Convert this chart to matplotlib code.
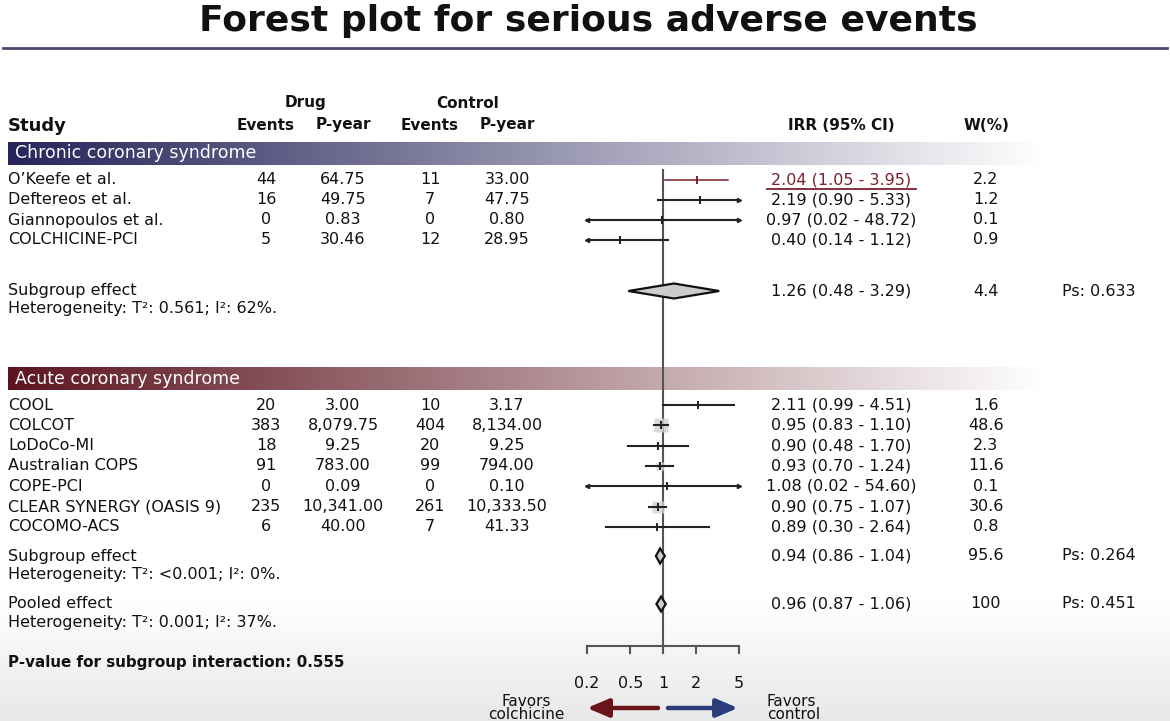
import numpy as np
import matplotlib
matplotlib.use('Agg')
import matplotlib.pyplot as plt
from matplotlib.colors import to_rgb

plt.rcParams['font.family'] = ['DejaVu Sans']

# ---- data ----
chronic_studies = ['O\u2019Keefe et al.', 'Deftereos et al.', 'Giannopoulos et al.', 'COLCHICINE-PCI']
chronic_drug_events = [44, 16, 0, 5]
chronic_drug_pyear = [64.75, 49.75, 0.83, 30.46]
chronic_ctrl_events = [11, 7, 0, 12]
chronic_ctrl_pyear = [33.00, 47.75, 0.80, 28.95]
chronic_irr = [2.04, 2.19, 0.97, 0.40]
chronic_lo = [1.05, 0.90, 0.02, 0.14]
chronic_hi = [3.95, 5.33, 48.72, 1.12]
chronic_w = [2.2, 1.2, 0.1, 0.9]

acute_studies = ['COOL', 'COLCOT', 'LoDoCo-MI', 'Australian COPS', 'COPE-PCI',
                 'CLEAR SYNERGY (OASIS 9)', 'COCOMO-ACS']
acute_drug_events = [20, 383, 18, 91, 0, 235, 6]
acute_drug_pyear = [3.00, 8079.75, 9.25, 783.00, 0.09, 10341.00, 40.00]
acute_ctrl_events = [10, 404, 20, 99, 0, 261, 7]
acute_ctrl_pyear = [3.17, 8134.00, 9.25, 794.00, 0.10, 10333.50, 41.33]
acute_irr = [2.11, 0.95, 0.90, 0.93, 1.08, 0.90, 0.89]
acute_lo = [0.99, 0.83, 0.48, 0.70, 0.02, 0.75, 0.30]
acute_hi = [4.51, 1.10, 1.70, 1.24, 54.60, 1.07, 2.64]
acute_w = [1.6, 48.6, 2.3, 11.6, 0.1, 30.6, 0.8]

summary_labels = ['Subgroup effect', 'Subgroup effect', 'Pooled effect']
summary_het = ['Heterogeneity: T\u00b2: 0.561; I\u00b2: 62%.',
               'Heterogeneity: T\u00b2: <0.001; I\u00b2: 0%.',
               'Heterogeneity: T\u00b2: 0.001; I\u00b2: 37%.']
summary_irr = [1.26, 0.94, 0.96]
summary_lo = [0.48, 0.86, 0.87]
summary_hi = [3.29, 1.04, 1.06]
summary_w = [4.4, 95.6, 100]
summary_ps = [0.633, 0.264, 0.451]

axis_ticks = [0.2, 0.5, 1, 2, 5]
p_interaction = 0.555

# ---- layout (pixel coordinates, y down) ----
W, H = 1170, 721
X_EV_D, X_PY_D, X_EV_C, X_PY_C = 266, 343, 430, 507
X_IRR, X_W, X_PS = 841, 986, 1099
chronic_rows = [180 + 20 * i for i in range(4)]
acute_rows = [405 + 20.3 * i for i in range(7)]
summary_rows = [291, 556, 604]
AXIS_Y = 646
XMIN, XMAX = 0.2, 5
FS = 11.5

fig = plt.figure(figsize=(W / 100, H / 100), dpi=100)
ax0 = fig.add_axes([0, 0, 1, 1])
ax0.set_xlim(0, W)
ax0.set_ylim(H, 0)
ax0.axis('off')

# light grey shading at the bottom
bg = np.ones((H, 1, 3))
ramp = np.clip((np.arange(H) - 600) / (H - 600), 0, 1)
bg[:, 0, :] = (1 - 0.09 * ramp)[:, None]
ax0.imshow(bg, extent=(0, W, H, 0), aspect='auto', zorder=0)

# title and rule
ax0.text(588, 21, 'Forest plot for serious adverse events', ha='center', va='center',
         fontsize=26, fontweight='bold', color='#111111')
ax0.plot([3, 1167], [48, 48], color='#4b4a6e', lw=2)

# headers
hkw = dict(fontsize=11, fontweight='bold', color='#111111', va='center')
ax0.text(305, 103, 'Drug', ha='center', **hkw)
ax0.text(468, 103, 'Control', ha='center', **hkw)
ax0.text(8, 126, 'Study', ha='left', fontsize=13, fontweight='bold', va='center', color='#111111')
for x, t in [(X_EV_D, 'Events'), (X_PY_D, 'P-year'), (X_EV_C, 'Events'), (X_PY_C, 'P-year'),
             (X_IRR, 'IRR (95% CI)'), (X_W, 'W(%)')]:
    ax0.text(x, 125, t, ha='center', **hkw)


def gradient_bar(y0, y1, c_left, label):
    n = 400
    t = np.linspace(0, 1, n)[None, :, None]
    cl = np.array(to_rgb(c_left))[None, None, :]
    img = cl * (1 - t) + np.ones(3)[None, None, :] * t
    ax0.imshow(img, extent=(8, 1045, y1, y0), aspect='auto', zorder=1)
    ax0.text(15, (y0 + y1) / 2, label, color='white', fontsize=12.5, va='center', ha='left',
             zorder=2)


gradient_bar(142, 165, '#26245a', 'Chronic coronary syndrome')
gradient_bar(367, 390, '#5c1520', 'Acute coronary syndrome')

tkw = dict(fontsize=FS, va='center', color='#111111')
red = '#7d1f2c'


def study_rows(rows, names, de, dp, ce, cp, irr, lo, hi, w, first_red=False):
    for i, (y, n, a, b, c, d, e, l, h, ww) in enumerate(zip(rows, names, de, dp, ce, cp,
                                                           irr, lo, hi, w)):
        ax0.text(8, y, n, ha='left', **tkw)
        ax0.text(X_EV_D, y, f'{a}', ha='center', **tkw)
        ax0.text(X_PY_D, y, f'{b:,.2f}', ha='center', **tkw)
        ax0.text(X_EV_C, y, f'{c}', ha='center', **tkw)
        ax0.text(X_PY_C, y, f'{d:,.2f}', ha='center', **tkw)
        col = red if (first_red and i == 0) else '#111111'
        ax0.text(X_IRR, y, f'{e:.2f} ({l:.2f} - {h:.2f})', ha='center', fontsize=FS,
                 va='center', color=col)
        ax0.text(X_W, y, f'{ww:g}', ha='center', **tkw)


study_rows(chronic_rows, chronic_studies, chronic_drug_events, chronic_drug_pyear,
           chronic_ctrl_events, chronic_ctrl_pyear, chronic_irr, chronic_lo, chronic_hi,
           chronic_w, first_red=True)
study_rows(acute_rows, acute_studies, acute_drug_events, acute_drug_pyear,
           acute_ctrl_events, acute_ctrl_pyear, acute_irr, acute_lo, acute_hi, acute_w)

# underline of the highlighted O'Keefe estimate
ax0.plot([767, 916], [189, 189], color=red, lw=1.3)

for y, lab, het, e, l, h, ww, ps in zip(summary_rows, summary_labels, summary_het, summary_irr,
                                          summary_lo, summary_hi, summary_w, summary_ps):
    ax0.text(8, y, lab, ha='left', **tkw)
    ax0.text(8, y + 18, het, ha='left', **tkw)
    ax0.text(X_IRR, y, f'{e:.2f} ({l:.2f} - {h:.2f})', ha='center', **tkw)
    ax0.text(X_W, y, f'{ww:g}', ha='center', **tkw)
    ax0.text(X_PS, y, f'Ps: {ps:.3f}', ha='center', **tkw)

ax0.text(8, 663, f'P-value for subgroup interaction: {p_interaction:.3f}', ha='left',
         fontsize=10.9, fontweight='bold', va='center', color='#111111')

# ---- forest panel ----
axf = fig.add_axes([587 / W, 0, (739 - 587) / W, 1])
axf.set_xscale('log')
axf.set_xlim(XMIN, XMAX)
axf.set_ylim(H, 0)
axf.axis('off')
axf.patch.set_alpha(0)

axf.plot([1, 1], [170, AXIS_Y], color='#555555', lw=1.5, zorder=2)


def draw_ci(y, est, lo, hi, w, color='#222222', lw=1.5):
    a, b = max(lo, XMIN), min(hi, XMAX)
    axf.plot([a, b], [y, y], color=color, lw=lw, zorder=3, clip_on=False)
    if lo < XMIN:
        axf.plot([a], [y], marker='<', ms=3, color=color, zorder=4, clip_on=False)
    if hi > XMAX:
        axf.plot([b], [y], marker='>', ms=3, color=color, zorder=4, clip_on=False)
    if w > 10:
        axf.plot([est], [y], marker='s', ms=1.5 * np.sqrt(w), color='#d0d0d0', mec='none',
                 alpha=0.8, zorder=2.5)
    axf.plot([est], [y], marker='|', ms=6, mew=1.4, color=color, zorder=5)


for i, y in enumerate(chronic_rows):
    if i == 0:
        draw_ci(y, chronic_irr[i], chronic_lo[i], chronic_hi[i], chronic_w[i], color=red, lw=1.1)
    else:
        draw_ci(y, chronic_irr[i], chronic_lo[i], chronic_hi[i], chronic_w[i])
for i, y in enumerate(acute_rows):
    draw_ci(y, acute_irr[i], acute_lo[i], acute_hi[i], acute_w[i])

for y, e, l, h in zip(summary_rows, summary_irr, summary_lo, summary_hi):
    dh = 7.5
    axf.fill([l, e, h, e, l], [y, y - dh, y, y + dh, y], facecolor='#cccccc',
             edgecolor='#111111', lw=1.6, zorder=6)

# x axis
axf.plot([XMIN, XMAX], [AXIS_Y, AXIS_Y], color='#555555', lw=1.5, clip_on=False)
for t in axis_ticks:
    axf.plot([t, t], [AXIS_Y, AXIS_Y + 7], color='#555555', lw=1.5, clip_on=False)
    axf.text(t, 684, f'{t:g}', ha='center', va='center', fontsize=FS, color='#111111')

axf.annotate('', xy=(0.2, 708), xytext=(0.9, 708),
             arrowprops=dict(arrowstyle='-|>,head_length=1.3,head_width=0.55',
                             color='#6a1519', lw=3.2, shrinkA=0, shrinkB=0))
axf.annotate('', xy=(4.9, 708), xytext=(1.11, 708),
             arrowprops=dict(arrowstyle='-|>,head_length=1.3,head_width=0.55',
                             color='#2c3b7c', lw=3.2, shrinkA=0, shrinkB=0))

ax0.text(526, 708, 'Favors\ncolchicine', ha='center', va='center', fontsize=11,
         linespacing=0.85, color='#111111')
ax0.text(767, 708, 'Favors\ncontrol', ha='left', va='center', fontsize=11,
         linespacing=0.85, color='#111111')

fig.savefig('out.png', dpi=100)
